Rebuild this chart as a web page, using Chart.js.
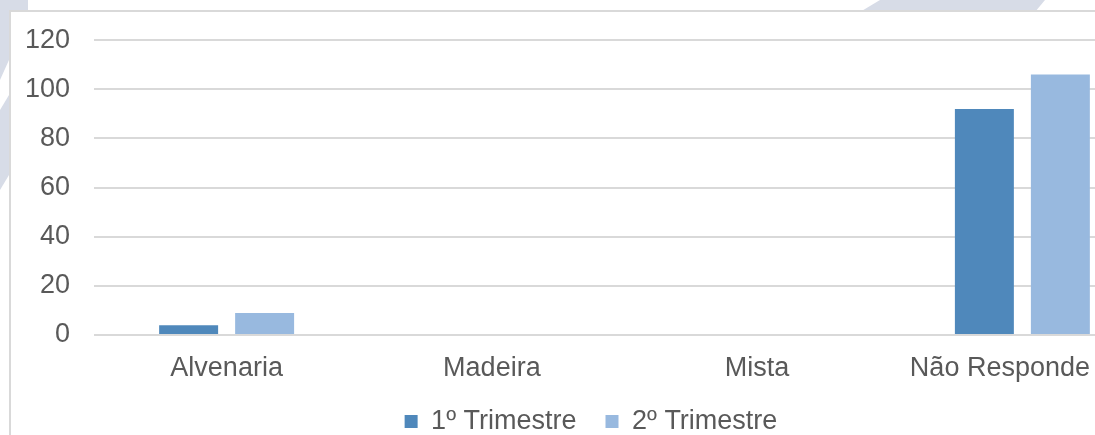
<!DOCTYPE html>
<html>
<head>
<meta charset="utf-8">
<script src="https://cdn.jsdelivr.net/npm/chart.js@4"></script>
<style>
  html, body { margin: 0; padding: 0; background: #fff; overflow: hidden; }
  #wrap { position: relative; width: 1095px; height: 435px; overflow: hidden; }
  #bg { position: absolute; left: 0; top: 0; }
  #box { position: absolute; left: 9px; top: 10px; width: 1200px; height: 430px;
         border: 2px solid #d9d9d9; background: #fff; box-sizing: border-box; }
  #cv { position: absolute; left: 0; top: 0; }
</style>
</head>
<body>
<div id="wrap">
  <svg id="bg" width="1095" height="435">
    <g fill="#d7dce7">
      <polygon points="0,0 28,0 28,12 9,12 9,60 0,80"/>
      <polygon points="0,110 9,95 9,175 0,190"/>
      <polygon points="880,0 1045,0 1035,12 860,12"/>
      <polygon points="1088,40 1095,30 1095,120 1088,130"/>
      <polygon points="95,430 165,430 160,435 100,435"/>
      <polygon points="590,430 680,430 670,435 600,435"/>
      <polygon points="355,430 420,430 415,435 360,435"/>
    </g>
  </svg>
  <div id="box"></div>
  <canvas id="cv" width="1160" height="435"></canvas>
</div>
<script>
const categories = ["Alvenaria", "Madeira", "Mista", "Não Responde"];
const trimestre1 = [4, 0, 0, 92];
const trimestre2 = [9, 0, 0, 106];
const yTicks = [0, 20, 40, 60, 80, 100, 120];

const textColor = "#595959";
const font = { family: "'Liberation Sans', Arial, sans-serif", size: 27 };

// x labels drawn by hand so the last one stays inside the visible window
const xLabels = {
    id: "xLabels",
    afterDraw(chart) {
        const ctx = chart.ctx;
        const scale = chart.scales.x;
        const visibleRight = 1090;
        ctx.save();
        ctx.font = font.size + "px " + font.family;
        ctx.fillStyle = textColor;
        ctx.textBaseline = "alphabetic";
        ctx.textAlign = "left";
        categories.forEach((c, i) => {
            const w = ctx.measureText(c).width;
            let x = scale.getPixelForTick(i) - w / 2;
            if (x + w > visibleRight) x = visibleRight - w;
            ctx.fillText(c, x, scale.top + 41);
        });
        ctx.restore();
    }
};

new Chart(document.getElementById("cv"), {
    type: "bar",
    data: {
        labels: categories,
        datasets: [
            { label: "1º Trimestre", data: trimestre1, backgroundColor: "#4f88bb" },
            { label: "2º Trimestre", data: trimestre2, backgroundColor: "#98b9df" },
        ],
    },
    options: {
        responsive: false,
        animation: false,
        categoryPercentage: 0.573,
        barPercentage: 0.776,
        layout: { padding: { left: 27, right: 5, top: 26, bottom: -10 } },
        scales: {
            x: {
                grid: { display: false, drawTicks: false },
                border: { display: false },
                ticks: { display: false },
                afterFit(s) { s.height = 44; },
            },
            y: {
                min: 0,
                max: 120,
                afterBuildTicks(s) { s.ticks = yTicks.map(v => ({ value: v })); },
                afterFit(s) { s.width = 67; },
                grid: { color: "#d9d9d9", lineWidth: 2, drawTicks: false },
                border: { display: false },
                ticks: { color: textColor, font: font, padding: 24 },
            },
        },
        plugins: {
            legend: {
                position: "bottom",
                labels: { color: textColor, font: font, boxWidth: 13, boxHeight: 13, padding: 29 },
            },
            tooltip: { enabled: false },
        },
    },
    plugins: [xLabels],
});
</script>
</body>
</html>
